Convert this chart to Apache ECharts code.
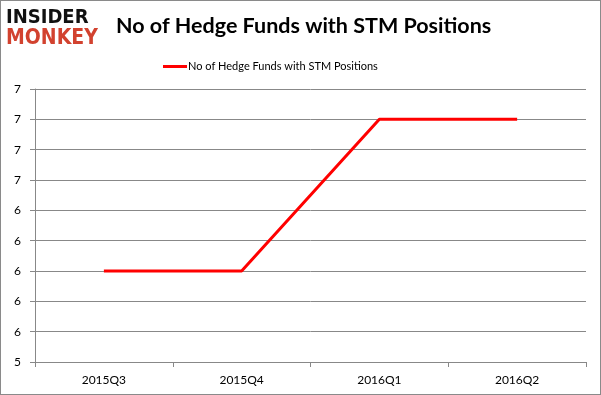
<!DOCTYPE html>
<html><head><meta charset="utf-8">
<script src="https://cdn.jsdelivr.net/npm/echarts@6/dist/echarts.min.js"></script>
<style>html,body{margin:0;padding:0;background:#fff}#c{width:601px;height:395px;box-sizing:border-box;border:1px solid #8a8a8a}</style>
</head><body><div id="c"></div>
<script>
const categories = ['2015Q3', '2015Q4', '2016Q1', '2016Q2'];
const hedgeFunds = [6, 6, 7, 7];
const seriesName = 'No of Hedge Funds with STM Positions';
const titleText = 'No of Hedge Funds with STM Positions';

const chart = echarts.init(document.getElementById('c'));
chart.setOption({
  animation: false,
  graphic: [
    {type: 'text', left: 5, top: 7, style: {text: 'INSIDER', font: '900 20px "DejaVu Sans Condensed", "DejaVu Sans", sans-serif', fill: '#111'}},
    {type: 'text', left: 5, top: 27, style: {text: 'MONKEY', font: '900 21px "DejaVu Sans Condensed", "DejaVu Sans", sans-serif', fill: '#d2422f'}}
  ],
  title: {
    text: titleText, left: 110, top: 9,
    textStyle: {fontFamily: 'Lato, sans-serif', fontWeight: 'bold', fontSize: 21.5, color: '#000'}
  },
  legend: {
    data: [seriesName], top: 55, left: 157, itemWidth: 24, itemHeight: 3, itemGap: 2,
    icon: 'rect',
    textStyle: {fontFamily: 'Lato, sans-serif', fontSize: 11, color: '#000', padding: [0,0,0,-4]}
  },
  grid: {left: 34, right: 14, top: 88, bottom: 32},
  xAxis: {
    type: 'category', data: categories, boundaryGap: true,
    axisLine: {lineStyle: {color: '#888'}},
    axisTick: {show: true, length: 5, lineStyle: {color: '#888'}},
    axisLabel: {color: '#000', fontFamily: 'Lato, sans-serif', fontSize: 12, margin: 12}
  },
  yAxis: {
    type: 'value', min: 5.4, max: 7.2, interval: 0.2,
    axisLine: {show: true, lineStyle: {color: '#888'}},
    axisTick: {show: true, length: 5, lineStyle: {color: '#888'}},
    splitLine: {lineStyle: {color: '#888'}},
    axisLabel: {color: '#000', fontFamily: 'Lato, sans-serif', fontSize: 12, margin: 14,
      formatter: v => Math.round(v).toString()}
  },
  series: [{
    name: seriesName, type: 'line', data: hedgeFunds, symbol: 'none',
    lineStyle: {color: '#ff0000', width: 3}, itemStyle: {color: '#ff0000'}
  }]
});
</script></body></html>
